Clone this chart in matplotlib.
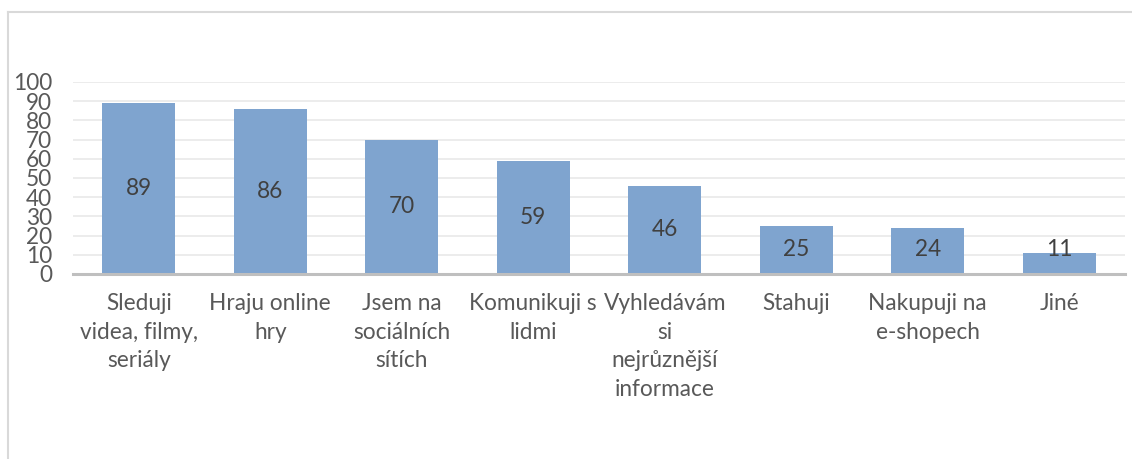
import matplotlib
matplotlib.use("Agg")
import matplotlib.pyplot as plt
from matplotlib.lines import Line2D

categories = [
    "Sleduji\nvidea, filmy,\nseriály",
    "Hraju online\nhry",
    "Jsem na\nsociálních\nsítích",
    "Komunikuji s\nlidmi",
    "Vyhledávám\nsi\nnejrůznější\ninformace",
    "Stahuji",
    "Nakupuji na\ne-shopech",
    "Jiné",
]
values = [89, 86, 70, 59, 46, 25, 24, 11]
yticks = [0, 10, 20, 30, 40, 50, 60, 70, 80, 90, 100]

W, H = 1132, 459
FONT = "Lato"
FS = 16.3
BAR = "#7FA4CF"

fig = plt.figure(figsize=(W / 100, H / 100), dpi=100)
fig.patch.set_facecolor("white")

# chart border (top + left visible)
fig.add_artist(Line2D([8 / W, 1.0], [1 - 12 / H, 1 - 12 / H], color="#D9D9D9", lw=1.5, transform=fig.transFigure))
fig.add_artist(Line2D([8 / W, 8 / W], [0, 1 - 12 / H], color="#D9D9D9", lw=1.5, transform=fig.transFigure))

left, right = 73 / W, 1125 / W
bottom, top = (H - 274) / H, (H - 82) / H
ax = fig.add_axes([left, bottom, right - left, top - bottom])
ax.set_facecolor("none")

x = list(range(len(values)))
ax.bar(x, values, width=0.555, color=BAR, zorder=2)
ax.set_xlim(-0.5, len(values) - 0.5)
ax.set_ylim(0, 100)

ax.set_yticks(yticks)
ax.set_yticklabels([str(t) for t in yticks], fontfamily=FONT, fontsize=FS, color="#595959")
ax.yaxis.grid(True, color="#EBEBEB", lw=1.3, zorder=0)
ax.set_axisbelow(True)
ax.tick_params(axis="y", length=0, pad=15)

ax.set_xticks(x)
ax.set_xticklabels(categories, fontfamily=FONT, fontsize=FS, color="#595959", linespacing=1.44)
ax.tick_params(axis="x", length=0, pad=14)

for s in ["top", "right", "left"]:
    ax.spines[s].set_visible(False)
ax.spines["bottom"].set_color("#BFBFBF")
ax.spines["bottom"].set_linewidth(2.2)
ax.spines["bottom"].set_zorder(3)

for xi, v in zip(x, values):
    ax.text(xi, max(v / 2, 13), str(v), ha="center", va="center",
            fontfamily=FONT, fontsize=FS, color="#404040", zorder=4)

fig.savefig("out.png", dpi=100, facecolor="white")
